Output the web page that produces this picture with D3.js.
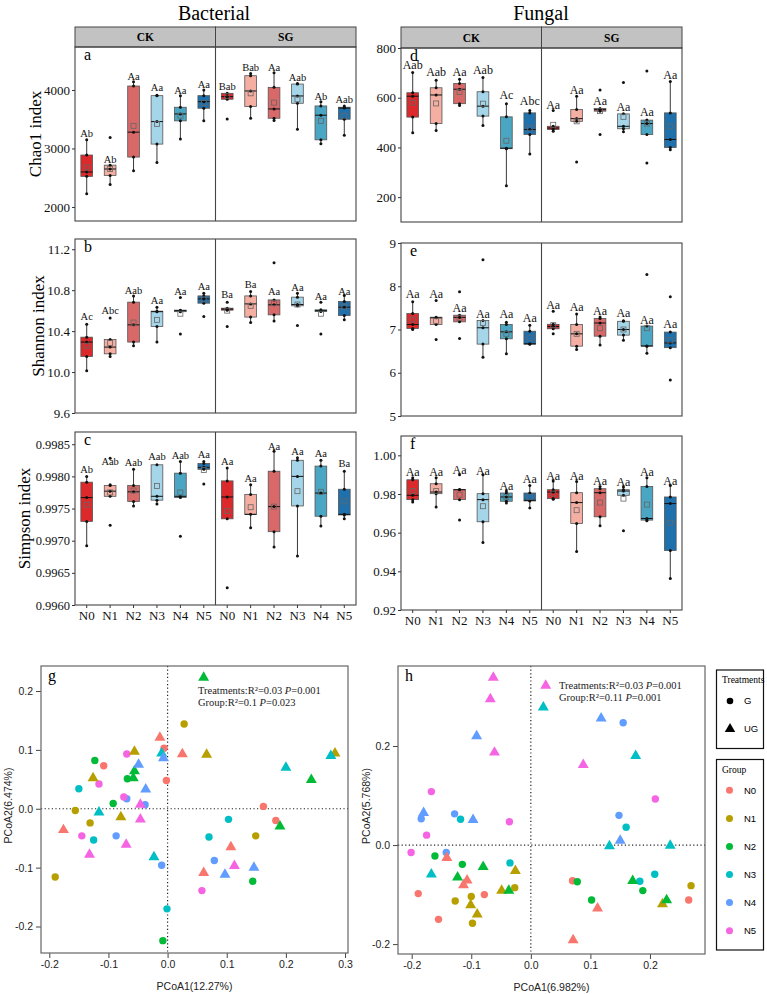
<!DOCTYPE html>
<html lang="en">
<head>
<meta charset="UTF-8">
<title>Alpha diversity and PCoA</title>
<script src="https://d3js.org/d3.v7.min.js"></script>
<style>
  body { margin: 0; background: #fff; }
  svg { display: block; }
</style>
</head>
<body>
<svg id="fig" width="767" height="994"></svg>
<script>
const SERIF = "'Liberation Serif', 'Times New Roman', serif";
const SANS = "'Liberation Sans', Arial, sans-serif";

const groups = ["N0", "N1", "N2", "N3", "N4", "N5"];
const facets = ["CK", "SG"];
const boxFill = ["#dc2a2c", "#f5aea2", "#d96868", "#a5d5e8", "#4aa6c2", "#1f71ad"];
const groupColor = ["#F8766D", "#B79F00", "#00BA38", "#00BFC4", "#619CFF", "#F564E3"];

// box stats: [lower whisker, q1, median, q3, upper whisker, mean]; CK N0..N5 then SG N0..N5
const chaoStats = [
  [2228, 2523, 2598, 2888, 3148, 2677], [2382, 2540, 2649, 2715, 2715, 2650],
  [2620, 2853, 3279, 4068, 4142, 3387], [2762, 3075, 3460, 3903, 3910, 3421],
  [3160, 3472, 3591, 3705, 3903, 3560], [3472, 3688, 3801, 3903, 4000, 3780],
  [3842, 3842, 3886, 3943, 3943, 3900], [3517, 3716, 3983, 4244, 4284, 3943],
  [3477, 3517, 3676, 4045, 4295, 3784], [3330, 3773, 3898, 4102, 4110, 3841],
  [3080, 3148, 3569, 3727, 3801, 3472], [3228, 3500, 3690, 3705, 3727, 3560]
];
const chaoOut = [[], [3187], [], [], [], [], [3506], [], [], [], [], []];
const chaoSig = ["Ab", "Ab", "Aa", "Aa", "Aa", "Aa", "Bab", "Bab", "Aa", "Aab", "Ab", "Aab"];
const chaoSigAt = [3262, 2819, 4227, 4039, 4000, 4097, 4068, 4380, 4380, 4210, 3898, 3847];

const shannonStats = [
  [10.013, 10.152, 10.293, 10.341, 10.468, 10.257], [10.152, 10.178, 10.244, 10.318, 10.318, 10.283],
  [10.257, 10.293, 10.461, 10.683, 10.744, 10.484], [10.293, 10.445, 10.59, 10.595, 10.634, 10.51],
  [10.59, 10.59, 10.6, 10.605, 10.605, 10.57], [10.673, 10.673, 10.715, 10.744, 10.771, 10.71],
  [10.605, 10.605, 10.615, 10.624, 10.624, 10.6], [10.484, 10.537, 10.666, 10.744, 10.787, 10.647],
  [10.5, 10.559, 10.657, 10.705, 10.705, 10.675], [10.647, 10.647, 10.66, 10.732, 10.771, 10.66],
  [10.591, 10.591, 10.6, 10.608, 10.608, 10.57], [10.51, 10.552, 10.634, 10.69, 10.747, 10.64]
];
const shannonOut = [[], [10.527], [], [], [10.728, 10.371], [10.542], [10.683, 10.445], [], [11.069], [10.455], [10.683, 10.371], []];
const shannonSig = ["Ac", "Abc", "Aab", "Aa", "Aa", "Aa", "Ba", "Ba", "Aa", "Aa", "Aa", "Aa"];
const shannonSigAt = [10.542, 10.608, 10.803, 10.696, 10.793, 10.835, 10.761, 10.859, 10.793, 10.825, 10.744, 10.793];

const simpsonStats = [
  [0.99692, 0.99730, 0.99767, 0.99791, 0.99800, 0.99756], [0.99769, 0.99769, 0.99777, 0.99786, 0.99787, 0.99775],
  [0.99754, 0.99761, 0.99776, 0.99786, 0.99811, 0.99778], [0.99757, 0.99763, 0.99769, 0.99818, 0.99818, 0.99785],
  [0.99767, 0.99767, 0.99769, 0.99805, 0.99823, 0.99775], [0.99811, 0.99811, 0.99814, 0.99820, 0.99823, 0.99810],
  [0.99734, 0.99734, 0.99768, 0.99793, 0.99813, 0.99746], [0.99720, 0.99741, 0.99741, 0.99772, 0.99787, 0.99752],
  [0.99690, 0.99714, 0.99753, 0.99808, 0.99839, 0.99753], [0.99676, 0.99754, 0.99800, 0.99825, 0.99829, 0.99777],
  [0.99723, 0.99738, 0.99774, 0.99816, 0.99825, 0.99776], [0.99734, 0.99740, 0.99741, 0.99780, 0.99808, 0.99761]
];
const simpsonOut = [[], [0.99828, 0.99724], [], [], [0.99707], [0.99788], [0.99627], [], [], [], [], []];
const simpsonSig = ["Ab", "Aab", "Aab", "Aab", "Aab", "Aa", "Aa", "Aa", "Aa", "Aa", "Aa", "Ba"];
const simpsonSigAt = [0.998104, 0.998237, 0.998222, 0.99831, 0.998321, 0.998336, 0.998233, 0.997964, 0.99847, 0.998388, 0.998361, 0.998206];

const fChaoStats = [
  [459, 522, 606, 620, 701, 580], [468, 496, 611, 640, 670, 577],
  [569, 576, 634, 657, 674, 623], [488, 526, 566, 624, 681, 576],
  [246, 395, 397, 523, 576, 427], [374, 452, 472, 539, 549, 479],
  [465, 472, 478, 485, 485, 491], [505, 505, 516, 553, 606, 505],
  [546, 546, 552, 557, 557, 546], [463, 475, 485, 535, 535, 523],
  [452, 452, 496, 510, 510, 496], [391, 400, 432, 539, 665, 485]
];
const fChaoOut = [[], [], [], [], [], [], [549], [341], [631, 452], [661], [707, 337], []];
const fChaoSig = ["Aab", "Aab", "Aa", "Aab", "Ac", "Abc", "Aa", "Aa", "Aa", "Aa", "Aa", "Aa"];
const fChaoSigAt = [732, 703, 705, 714, 613, 589, 573, 631, 586, 564, 543, 691];

const fShannonStats = [
  [7.0, 7.023, 7.115, 7.369, 7.639, 7.23], [7.115, 7.115, 7.27, 7.284, 7.284, 7.2],
  [7.177, 7.177, 7.28, 7.33, 7.33, 7.27], [6.36, 6.662, 7.04, 7.208, 7.208, 7.15],
  [6.44, 6.785, 6.946, 7.115, 7.17, 6.9], [6.66, 6.66, 6.67, 6.96, 7.1, 6.8],
  [7.016, 7.016, 7.07, 7.12, 7.12, 7.1], [6.54, 6.615, 6.9, 7.115, 7.36, 6.9],
  [6.64, 6.846, 7.15, 7.254, 7.29, 7.03], [6.75, 6.87, 7.0, 7.19, 7.2, 7.0],
  [6.45, 6.615, 6.62, 7.08, 7.08, 7.03], [6.58, 6.58, 6.69, 6.94, 6.94, 6.75]
];
const fShannonOut = [[], [7.669, 6.77], [7.87, 6.79], [8.615], [], [], [7.42, 6.9], [], [], [], [8.27], [7.755, 5.83]];
const fShannonSig = ["Aa", "Aa", "Aa", "Aa", "Aa", "Aa", "Aa", "Aa", "Aa", "Aa", "Aa", "Aa"];
const fShannonSigAt = [7.831, 7.815, 7.501, 7.369, 7.362, 7.27, 7.577, 7.515, 7.438, 7.385, 7.231, 7.138];

const fSimpsonStats = [
  [0.9759, 0.97709, 0.97932, 0.98735, 0.98838, 0.98154], [0.97333, 0.98017, 0.98103, 0.9853, 0.98838, 0.9815],
  [0.97709, 0.97709, 0.9822, 0.98239, 0.98239, 0.97966], [0.95487, 0.96564, 0.97709, 0.98017, 0.98991, 0.97368],
  [0.97538, 0.97624, 0.97846, 0.98051, 0.98154, 0.97846], [0.97282, 0.97641, 0.97675, 0.98051, 0.98444, 0.97846],
  [0.97726, 0.97761, 0.98103, 0.98222, 0.98667, 0.98017], [0.95026, 0.96479, 0.97556, 0.98068, 0.9865, 0.97162],
  [0.96359, 0.96821, 0.98068, 0.98274, 0.98393, 0.97556], [0.97932, 0.97932, 0.98154, 0.98222, 0.98359, 0.97761],
  [0.96615, 0.9665, 0.96735, 0.98393, 0.98838, 0.97453], [0.93624, 0.95077, 0.97504, 0.97846, 0.98444, 0.96513]
];
const fSimpsonOut = [[], [], [0.98991, 0.9665], [], [], [], [], [], [], [0.96103], [], []];
const fSimpsonSig = ["Aa", "Aa", "Aa", "Aa", "Aa", "Aa", "Aa", "Aa", "Aa", "Aa", "Aa", "Aa"];
const fSimpsonSigAt = [0.99131, 0.99131, 0.9927, 0.99218, 0.98447, 0.98792, 0.98961, 0.98925, 0.98668, 0.98653, 0.99131, 0.98704];

// PCoA points: [PCoA1, PCoA2, group index]
const bactG = [
  [-0.108, 0.073, 0], [-0.006, 0.103, 0], [-0.002, 0.048, 0], [0.162, 0.004, 0], [0.183, -0.020, 0],
  [0.028, 0.144, 1], [-0.156, -0.003, 1], [-0.131, -0.024, 1], [-0.190, -0.116, 1], [0.149, -0.046, 1],
  [-0.123, 0.082, 2], [-0.068, 0.051, 2], [-0.092, 0.009, 2], [0.144, -0.123, 2], [-0.008, -0.224, 2],
  [-0.150, 0.034, 3], [-0.125, -0.053, 3], [0.070, -0.048, 3], [0.103, -0.018, 3], [-0.001, -0.170, 3],
  [-0.069, 0.017, 4], [-0.038, 0.007, 4], [-0.087, -0.046, 4], [-0.010, -0.096, 4], [0.079, -0.088, 4],
  [-0.069, 0.093, 5], [-0.116, 0.042, 5], [-0.074, 0.020, 5], [-0.145, -0.046, 5], [0.058, -0.139, 5]
];
const bactUG = [
  [-0.013, 0.121, 0], [0.025, 0.093, 0], [-0.176, -0.036, 0], [0.107, -0.065, 0], [0.061, -0.109, 0],
  [-0.056, 0.097, 1], [-0.126, 0.052, 1], [0.066, 0.092, 1], [-0.079, -0.014, 1], [0.283, 0.094, 1],
  [0.061, 0.223, 2], [-0.056, 0.064, 2], [-0.058, 0.052, 2], [0.243, 0.049, 2], [0.190, -0.030, 2],
  [-0.010, 0.094, 3], [-0.116, -0.006, 3], [-0.023, -0.082, 3], [0.200, 0.070, 3], [0.276, 0.090, 3],
  [-0.049, 0.075, 4], [-0.007, 0.086, 4], [-0.037, 0.033, 4], [0.097, -0.112, 4], [0.146, -0.100, 4],
  [-0.046, 0.007, 5], [-0.046, -0.018, 5], [-0.070, -0.061, 5], [-0.132, -0.078, 5], [0.113, -0.097, 5]
];
const fungG = [
  [-0.189, -0.098, 0], [-0.155, -0.150, 0], [-0.078, -0.100, 0], [0.070, -0.072, 0], [0.265, -0.111, 0],
  [-0.127, -0.113, 1], [-0.100, -0.104, 1], [-0.098, -0.158, 1], [-0.027, -0.086, 1], [0.269, -0.082, 1],
  [-0.161, -0.022, 2], [-0.115, -0.039, 2], [0.078, -0.074, 2], [0.102, -0.111, 2], [0.188, -0.092, 2],
  [-0.118, 0.052, 3], [-0.035, -0.036, 3], [0.160, 0.036, 3], [0.183, -0.073, 3], [0.208, -0.059, 3],
  [-0.184, 0.053, 4], [-0.128, 0.063, 4], [-0.142, -0.015, 4], [0.155, 0.247, 4], [0.148, 0.060, 4],
  [-0.167, 0.108, 5], [-0.175, 0.020, 5], [-0.201, -0.015, 5], [-0.036, 0.047, 5], [0.209, 0.093, 5]
];
const fungUG = [
  [-0.141, -0.026, 0], [-0.107, -0.071, 0], [-0.113, -0.081, 0], [0.112, -0.128, 0], [0.071, -0.192, 0],
  [-0.101, -0.121, 1], [-0.090, -0.140, 1], [-0.049, -0.092, 1], [-0.026, -0.052, 1], [0.221, -0.119, 1],
  [-0.123, -0.065, 2], [-0.080, -0.044, 2], [-0.037, -0.092, 2], [0.171, -0.072, 2], [0.228, -0.111, 2],
  [0.021, 0.278, 3], [-0.167, -0.059, 3], [0.132, -0.002, 3], [0.176, 0.180, 3], [0.234, -0.001, 3],
  [-0.180, 0.065, 4], [-0.091, 0.220, 4], [-0.097, 0.051, 4], [0.118, 0.256, 4], [0.150, 0.009, 4],
  [-0.063, 0.338, 5], [-0.068, 0.295, 5], [-0.061, 0.187, 5], [0.025, 0.322, 5], [0.088, 0.162, 5]
];

const svg = d3.select("#fig");

// column titles
svg.append("text").attr("x", 214).attr("y", 20).attr("text-anchor", "middle")
  .attr("font-family", SERIF).attr("font-size", 20).text("Bacterial");
svg.append("text").attr("x", 541).attr("y", 20).attr("text-anchor", "middle")
  .attr("font-family", SERIF).attr("font-size", 20).text("Fungal");

function boxPanel(p) {
  const g = svg.append("g");
  const x = d3.scaleBand().domain(d3.range(12)).range([p.left, p.right]);
  const y = d3.scaleLinear().domain(p.domain).range([p.bottom, p.top]);
  const mid = (p.left + p.right) / 2;
  const bw = x.bandwidth() * 0.5;

  if (p.stripTop != null) {
    facets.forEach((f, i) => {
      const x0 = p.left + i * (p.right - p.left) / 2;
      g.append("rect").attr("x", x0).attr("y", p.stripTop)
        .attr("width", (p.right - p.left) / 2).attr("height", p.top - p.stripTop)
        .attr("fill", "#c2c2c2").attr("stroke", "#444").attr("stroke-width", 1);
      g.append("text").attr("x", x0 + (p.right - p.left) / 4).attr("y", (p.stripTop + p.top) / 2)
        .attr("dy", "0.35em").attr("text-anchor", "middle")
        .attr("font-family", SERIF).attr("font-weight", "bold").attr("font-size", 11.5).text(f);
    });
  }

  // y axis
  const ya = g.append("g").attr("transform", `translate(${p.left},0)`)
    .call(d3.axisLeft(y).tickValues(p.ticks).tickFormat(p.fmt).tickSize(3).tickPadding(2));
  ya.select(".domain").remove();
  ya.selectAll("line").attr("stroke", "#333");
  ya.selectAll("text").attr("font-family", SERIF).attr("font-size", p.tickSize || 13).attr("fill", "#111");

  if (p.xlabels) {
    const xa = g.append("g").attr("transform", `translate(0,${p.bottom})`)
      .call(d3.axisBottom(x).tickFormat(i => groups[i % 6]).tickSize(3).tickPadding(3));
    xa.select(".domain").remove();
    xa.selectAll("line").attr("stroke", "#333");
    xa.selectAll("text").attr("font-family", SERIF).attr("font-size", 13).attr("fill", "#111");
  }

  if (p.title) {
    g.append("text").attr("transform", `translate(${p.titleX},${(p.top + p.bottom) / 2}) rotate(-90)`)
      .attr("text-anchor", "middle").attr("dy", "0.35em")
      .attr("font-family", SERIF).attr("font-size", 17).text(p.title);
  }

  // boxes
  p.stats.forEach((s, i) => {
    const cx = x(i) + x.bandwidth() / 2;
    const [lo, q1, med, q3, hi, mean] = s;
    g.append("line").attr("x1", cx).attr("x2", cx).attr("y1", y(hi)).attr("y2", y(q3))
      .attr("stroke", "#222").attr("stroke-width", 0.9);
    g.append("line").attr("x1", cx).attr("x2", cx).attr("y1", y(q1)).attr("y2", y(lo))
      .attr("stroke", "#222").attr("stroke-width", 0.9);
    g.append("rect").attr("x", cx - bw / 2).attr("y", y(q3)).attr("width", bw)
      .attr("height", Math.max(1, y(q1) - y(q3)))
      .attr("fill", boxFill[i % 6]).attr("stroke", "#555").attr("stroke-width", 0.8);
    g.append("line").attr("x1", cx - bw / 2).attr("x2", cx + bw / 2).attr("y1", y(med)).attr("y2", y(med))
      .attr("stroke", "#111").attr("stroke-width", 1);
    const pts = Array.from(new Set([lo, q1, med, q3, hi])).concat(p.out[i]);
    g.selectAll(null).data(pts).join("circle")
      .attr("cx", cx).attr("cy", d => y(d)).attr("r", 1.5).attr("fill", "#111");
    g.append("rect").attr("x", cx - 2.5).attr("y", y(mean) - 2.5).attr("width", 5).attr("height", 5)
      .attr("fill", "none").attr("stroke", "#666").attr("stroke-width", 0.8);
    g.append("text").attr("x", cx).attr("y", y(p.sigAt[i])).attr("dy", "0.35em")
      .attr("text-anchor", "middle").attr("font-family", SERIF).attr("font-size", p.sigSize)
      .attr("fill", "#111").text(p.sig[i]);
  });

  // frame + facet divider
  g.append("rect").attr("x", p.left).attr("y", p.top).attr("width", p.right - p.left)
    .attr("height", p.bottom - p.top).attr("fill", "none").attr("stroke", "#444").attr("stroke-width", 1.1);
  g.append("line").attr("x1", mid).attr("x2", mid).attr("y1", p.top).attr("y2", p.bottom)
    .attr("stroke", "#444").attr("stroke-width", 1.1);

  g.append("text").attr("x", p.left + 9).attr("y", p.top + 13)
    .attr("font-family", SERIF).attr("font-size", 16).text(p.letter);
}

const LX = [75, 356], RX = [401, 682];

boxPanel({ left: LX[0], right: LX[1], stripTop: 27, top: 47, bottom: 221, domain: [1760, 4735],
  ticks: [2000, 3000, 4000], fmt: d3.format("d"), stats: chaoStats, out: chaoOut, sig: chaoSig,
  sigAt: chaoSigAt, sigSize: 10.5, letter: "a", title: "Chao1 index", titleX: 35 });
boxPanel({ left: LX[0], right: LX[1], top: 239, bottom: 413, domain: [9.6, 11.3],
  ticks: [9.6, 10.0, 10.4, 10.8, 11.2], fmt: d3.format(".1f"), stats: shannonStats, out: shannonOut,
  sig: shannonSig, sigAt: shannonSigAt, sigSize: 10.5, letter: "b", title: "Shannon index", titleX: 38 });
boxPanel({ left: LX[0], right: LX[1], top: 432, bottom: 605, domain: [0.996, 0.99869],
  ticks: [0.996, 0.9965, 0.997, 0.9975, 0.998, 0.9985], fmt: d3.format(".4f"), stats: simpsonStats,
  out: simpsonOut, sig: simpsonSig, sigAt: simpsonSigAt, sigSize: 10.5, letter: "c", tickSize: 12.5,
  title: "Simpson index", titleX: 24, xlabels: true });

boxPanel({ left: RX[0], right: RX[1], stripTop: 27, top: 48, bottom: 222, domain: [100, 800],
  ticks: [200, 400, 600, 800], fmt: d3.format("d"), stats: fChaoStats, out: fChaoOut, sig: fChaoSig,
  sigAt: fChaoSigAt, sigSize: 12, letter: "d" });
boxPanel({ left: RX[0], right: RX[1], top: 243, bottom: 416, domain: [5, 9],
  ticks: [5, 6, 7, 8, 9], fmt: d3.format("d"), stats: fShannonStats, out: fShannonOut,
  sig: fShannonSig, sigAt: fShannonSigAt, sigSize: 12, letter: "e" });
boxPanel({ left: RX[0], right: RX[1], top: 436, bottom: 610, domain: [0.92, 1.01],
  ticks: [0.92, 0.94, 0.96, 0.98, 1.0], fmt: d3.format(".2f"), stats: fSimpsonStats,
  out: fSimpsonOut, sig: fSimpsonSig, sigAt: fSimpsonSigAt, sigSize: 12, letter: "f", xlabels: true });

function pcoaPanel(p) {
  const g = svg.append("g");
  const x = d3.scaleLinear().domain(p.xdom).range([p.left, p.right]);
  const y = d3.scaleLinear().domain(p.ydom).range([p.bottom, p.top]);
  const fmt = d => d.toFixed(1);

  const xa = g.append("g").attr("transform", `translate(0,${p.bottom})`)
    .call(d3.axisBottom(x).tickValues(p.xticks).tickFormat(fmt).tickSize(5).tickPadding(3));
  const ya = g.append("g").attr("transform", `translate(${p.left},0)`)
    .call(d3.axisLeft(y).tickValues(p.yticks).tickFormat(fmt).tickSize(5).tickPadding(3));
  [xa, ya].forEach(a => {
    a.select(".domain").remove();
    a.selectAll("line").attr("stroke", "#444");
    a.selectAll("text").attr("font-family", SANS).attr("font-size", 10.5).attr("fill", "#222");
  });

  g.append("line").attr("x1", x(0)).attr("x2", x(0)).attr("y1", p.top).attr("y2", p.bottom)
    .attr("stroke", "#222").attr("stroke-width", 1.2).attr("stroke-dasharray", "1.2,2.4");
  g.append("line").attr("x1", p.left).attr("x2", p.right).attr("y1", y(0)).attr("y2", y(0))
    .attr("stroke", "#222").attr("stroke-width", 1.2).attr("stroke-dasharray", "1.2,2.4");

  g.selectAll(null).data(p.circles).join("circle")
    .attr("cx", d => x(d[0])).attr("cy", d => y(d[1])).attr("r", 3.7)
    .attr("fill", d => groupColor[d[2]]);
  const tri = d3.symbol().type(d3.symbolTriangle).size(52);
  g.selectAll(null).data(p.triangles).join("path")
    .attr("transform", d => `translate(${x(d[0])},${y(d[1])})`).attr("d", tri)
    .attr("fill", d => groupColor[d[2]]);

  g.append("rect").attr("x", p.left).attr("y", p.top).attr("width", p.right - p.left)
    .attr("height", p.bottom - p.top).attr("fill", "none").attr("stroke", "#666").attr("stroke-width", 1.2);

  g.append("text").attr("x", p.left + 7).attr("y", p.top + 15)
    .attr("font-family", SERIF).attr("font-size", 16).text(p.letter);

  p.stats.forEach((s, i) => {
    const t = g.append("text").attr("x", p.annX).attr("y", p.annY + i * 11.5)
      .attr("font-family", SERIF).attr("font-size", 10.5).attr("fill", "#222");
    t.append("tspan").text(s[0]);
    t.append("tspan").attr("font-style", "italic").text("P");
    t.append("tspan").text(s[1]);
  });

  g.append("text").attr("x", (p.left + p.right) / 2).attr("y", p.bottom + 37)
    .attr("text-anchor", "middle").attr("font-family", SANS).attr("font-size", 10.5)
    .attr("fill", "#222").text(p.xtitle);
  g.append("text").attr("transform", `translate(${p.ytitleX},${(p.top + p.bottom) / 2 - 4}) rotate(-90)`)
    .attr("text-anchor", "middle").attr("dy", "0.35em").attr("font-family", SANS).attr("font-size", 10.5)
    .attr("fill", "#222").text(p.ytitle);
}

pcoaPanel({ left: 41, right: 348, top: 666, bottom: 953, xdom: [-0.214, 0.305], ydom: [-0.245, 0.2425],
  xticks: [-0.2, -0.1, 0, 0.1, 0.2, 0.3], yticks: [-0.2, -0.1, 0, 0.1, 0.2],
  circles: bactG, triangles: bactUG, letter: "g",
  stats: [["Treatments:R\u00b2=0.03 ", "=0.001"], ["Group:R\u00b2=0.1 ", "=0.023"]],
  annX: 198, annY: 694, xtitle: "PCoA1(12.27%)", ytitle: "PCoA2(6.474%)", ytitleX: 8 });

pcoaPanel({ left: 398, right: 705, top: 666, bottom: 954, xdom: [-0.223, 0.2924], ydom: [-0.22, 0.3616],
  xticks: [-0.2, -0.1, 0, 0.1, 0.2], yticks: [-0.2, 0, 0.2],
  circles: fungG, triangles: fungUG, letter: "h",
  stats: [["Treatments:R\u00b2=0.03 ", "=0.001"], ["Group:R\u00b2=0.11 ", "=0.001"]],
  annX: 559, annY: 689, xtitle: "PCoA1(6.982%)", ytitle: "PCoA2(5.768%)", ytitleX: 366 });

// legends
const lg = svg.append("g");
lg.append("rect").attr("x", 716.5).attr("y", 670).attr("width", 47).attr("height", 78.5)
  .attr("fill", "#fff").attr("stroke", "#111").attr("stroke-width", 1.2);
lg.append("text").attr("x", 722).attr("y", 683).attr("font-family", SERIF).attr("font-size", 9.5).text("Treatments");
lg.append("circle").attr("cx", 730).attr("cy", 701).attr("r", 3.3).attr("fill", "#000");
lg.append("text").attr("x", 744).attr("y", 701).attr("dy", "0.35em").attr("font-family", SANS)
  .attr("font-size", 9.5).text("G");
lg.append("path").attr("transform", "translate(730,729)").attr("d", d3.symbol().type(d3.symbolTriangle).size(48))
  .attr("fill", "#000");
lg.append("text").attr("x", 744).attr("y", 729).attr("dy", "0.35em").attr("font-family", SANS)
  .attr("font-size", 9.5).text("UG");

lg.append("rect").attr("x", 716.5).attr("y", 759.5).attr("width", 47).attr("height", 190.5)
  .attr("fill", "#fff").attr("stroke", "#111").attr("stroke-width", 1.2);
lg.append("text").attr("x", 722).attr("y", 773).attr("font-family", SERIF).attr("font-size", 9.5).text("Group");
const ly = d3.scalePoint().domain(groups).range([790.3, 930.7]);
groups.forEach((k, i) => {
  lg.append("circle").attr("cx", 729.5).attr("cy", ly(k)).attr("r", 3.5).attr("fill", groupColor[i]);
  lg.append("text").attr("x", 744).attr("y", ly(k)).attr("dy", "0.35em").attr("font-family", SANS)
    .attr("font-size", 9.5).text(k);
});
</script>
</body>
</html>
